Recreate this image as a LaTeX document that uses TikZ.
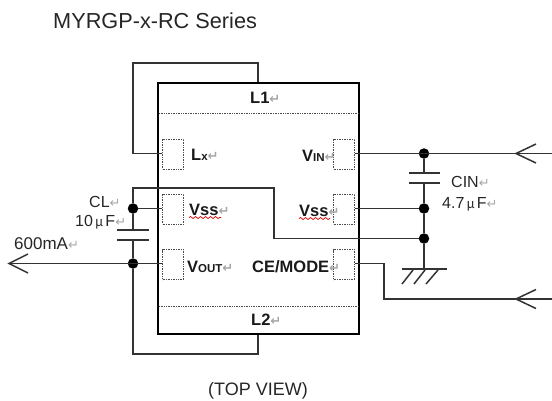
\documentclass[tikz,border=0pt]{standalone}
\usepackage{fontspec}
\setmainfont{Liberation Sans}
\newfontfamily\symf{DejaVu Sans}
\newfontfamily\jpf{Noto Sans CJK JP}
\usetikzlibrary{decorations.pathmorphing}
\definecolor{wirec}{gray}{0.2}
\newcommand{\ret}{{\symf\fontsize{13}{13}\selectfont\textcolor{black!35}{↵}}}
\newcommand{\mic}{{\jpf\fontsize{13}{13}\selectfont\,μ\,}}
\newcommand{\smc}[1]{{\fontsize{11.5}{12}\selectfont #1}}
\tikzset{
  x=1pt,y=-1pt,
  wire/.style={draw=wirec,line width=1.5pt},
  chip/.style={draw=black,line width=2.3pt,minimum width=201pt,minimum height=251pt,inner sep=0pt},
  pinbox/.style={draw=black!70,densely dotted,line width=0.7pt,minimum width=21pt,minimum height=30pt,inner sep=0pt},
  sep/.style={draw=black!70,densely dotted,line width=0.7pt},
  dot/.style={circle,fill=black,inner sep=0pt,minimum size=10.5pt},
  plate/.style={draw=wirec,line width=1.5pt},
  lab/.style={inner sep=0pt,anchor=base west,font=\fontsize{16.5}{18}\selectfont\bfseries,text=black!90},
  txt/.style={inner sep=0pt,anchor=base west,font=\fontsize{16}{18}\selectfont,text=black!85},
  head/.style={draw=wirec,line width=1.5pt},
  wavy/.style={draw=red!85!black,line width=0.7pt,decorate,decoration={snake,amplitude=1pt,segment length=5pt}}
}
\begin{document}
\begin{tikzpicture}
\useasboundingbox (0,0) rectangle (552,400);
% chip
\node[chip] (ic) at (258.5,208.5) {};
\coordinate (sepTL) at (159,113); \coordinate (sepTR) at (358,113);
\coordinate (sepBL) at (159,306); \coordinate (sepBR) at (358,306);
\draw[sep] (sepTL) -- (sepTR);
\draw[sep] (sepBL) -- (sepBR);
% pin boxes
\node[pinbox] (plx) at (173,154) {};
\node[pinbox] (pvssl) at (173,209) {};
\node[pinbox] (pout) at (173,264.5) {};
\node[pinbox] (pin) at (344,154) {};
\node[pinbox] (pvssr) at (344,209) {};
\node[pinbox] (pce) at (344,264.5) {};
% labels
\node[lab] (tl1) at (250,103) {L1\ret};
\node[lab] (tl2) at (251,325.5) {L2\ret};
\node[lab] (tlx) at (191,160) {L\smc{x}\ret};
\node[lab] (tvl) at (189,215) {Vss\ret};
\node[lab] (tvo) at (187,272.5) {V\smc{OUT}\ret};
\node[lab] (tvi) at (302,161) {V\smc{IN}\ret};
\node[lab] (tvr) at (299,216) {Vss\ret};
\node[lab] (tce) at (252,272.5) {CE/MODE\ret};
\coordinate (wa) at (189,217.5); \coordinate (wb) at (221,217.5);
\coordinate (wc) at (299,218.5); \coordinate (wd) at (330,218.5);
\draw[wavy] (wa) -- (wb);
\draw[wavy] (wc) -- (wd);
% left side
\coordinate (l1top) at (258,63); \coordinate (l1left) at (133,63); \coordinate (lxc) at (133,153.5);
\draw[wire] (ic.north -| l1top) -- (l1top) -- (l1left) -- (lxc) -- (lxc -| plx.west);
\node[dot] (dcl) at (133,208.5) {};
\node[dot] (dout) at (133,263.5) {};
\node[dot] (d1) at (424,153.5) {};
\node[dot] (d2) at (424,208.5) {};
\node[dot] (d3) at (424,238.5) {};
% CL
\coordinate (clT) at (133,230); \coordinate (clB) at (133,240);
\draw[wire] (dcl) -- (clT); \draw[wire] (clB) -- (dout);
\draw[plate] (117,230) -- (149,230); \draw[plate] (117,240) -- (149,240);
\draw[wire] (dcl) -- (dcl -| pvssl.west);
% loop from CL node to GND node
\coordinate (lpa) at (133,188); \coordinate (lpb) at (274,188); \coordinate (lpc) at (274,238.5);
\draw[wire] (dcl) -- (lpa) -- (lpb) -- (lpc) -- (d3);
% output
\coordinate (outtip) at (9,263.5);
\draw[wire] (pout.west |- dout) -- (outtip);
\draw[head] (28,254) -- (outtip) -- (28,273);
\coordinate (l2down) at (133,354); \coordinate (l2right) at (258,354);
\draw[wire] (dout) -- (l2down) -- (l2right) -- (ic.south -| l2right);
% right side
\coordinate (vinend) at (552,153.5); \coordinate (vintip) at (516,153.5);
\draw[wire] (pin.east |- d1) -- (vinend);
\draw[head] (536,144) -- (vintip) -- (536,163);
\coordinate (cinT) at (424,173); \coordinate (cinB) at (424,183);
\draw[wire] (d1) -- (cinT); \draw[wire] (cinB) -- (d2);
\draw[plate] (409,173) -- (440,173); \draw[plate] (409,183) -- (440,183);
\draw[wire] (pvssr.east |- d2) -- (d2);
\coordinate (gnd) at (424,269);
\draw[wire] (d2) -- (d3) -- (gnd);
\draw[plate] (402,269) -- (447,269);
\draw[plate] (413,270) -- (402,284);
\draw[plate] (425,270) -- (414,284);
\draw[plate] (438,270) -- (426,284);
\coordinate (cea) at (384,263.5); \coordinate (ceb) at (384,299); \coordinate (cetip) at (516,299); \coordinate (ceend) at (552,299);
\draw[wire] (pce.east |- cea) -- (cea) -- (ceb) -- (ceend);
\draw[head] (536,289.5) -- (cetip) -- (536,308.5);
% texts
\node[txt,font=\fontsize{21.7}{24}\selectfont] (title) at (53,28) {MYRGP-x-RC Series};
\node[txt] (cl) at (89,207) {CL\ret};
\node[txt] (clv) at (75,226) {10\mic F\ret};
\node[txt,font=\fontsize{17}{19}\selectfont] (ma) at (14,249) {600mA\ret};
\node[txt] (cin) at (451,187) {CIN\ret};
\node[txt] (cinv) at (442,208.5) {4.7\mic F\ret};
\node[txt,font=\fontsize{18}{20}\selectfont] (tv) at (208,395.5) {(TOP VIEW)};
\end{tikzpicture}
\end{document}
